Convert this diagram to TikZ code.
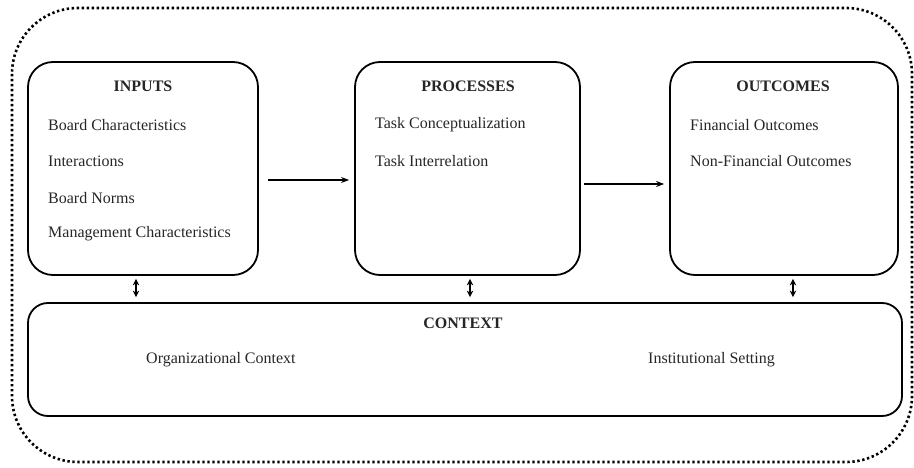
\documentclass[tikz,border=0pt]{standalone}
\usepackage{fontspec}
\setmainfont{Liberation Serif}
\usetikzlibrary{arrows.meta,calc}
\begin{document}
\begin{tikzpicture}[x=1pt,y=-1pt,
  box/.style={draw,line width=1.8pt,rounded corners=25pt,inner sep=0pt},
  ctxbox/.style={draw,line width=1.8pt,rounded corners=20pt,inner sep=0pt},
  outer/.style={draw,line width=2.6pt,dash pattern=on 2.4pt off 2.6pt,rounded corners=66pt},
  ttl/.style={font=\fontsize{16}{19}\selectfont\bfseries,inner sep=0pt,text=black!85},
  itm/.style={font=\fontsize{16}{19}\selectfont,inner sep=0pt,anchor=west,text=black!85},
  arr/.style={line width=1.2pt,-{Stealth[length=8pt,width=6pt]}},
  darr/.style={line width=1.2pt,{Stealth[length=6.5pt,width=6.5pt]}-{Stealth[length=6.5pt,width=6.5pt]}}
]
\useasboundingbox (0,0) rectangle (914,468);
\draw[outer] (12,8) rectangle (912,462);
\node[box,minimum width=230pt,minimum height=213pt] (inputs) at (143,168.5) {};
\node[box,minimum width=225pt,minimum height=213pt] (processes) at (467.5,168.5) {};
\node[box,minimum width=228pt,minimum height=213pt] (outcomes) at (784,168.5) {};
\node[ctxbox,minimum width=874pt,minimum height=113pt] (context) at (465,359.5) {};

\node[ttl] (tin) at (143,86) {INPUTS};
\node[itm] (i1) at (48,125) {Board Characteristics};
\node[itm] (i2) at (48,161) {Interactions};
\node[itm] (i3) at (48,198) {Board Norms};
\node[itm] (i4) at (48,234) {Management Characteristics};

\node[ttl] (tpr) at (468,86) {PROCESSES};
\node[itm] (p1) at (375,125) {Task Conceptualization};
\node[itm] (p2) at (375,161) {Task Interrelation};

\node[ttl] (tout) at (783,86) {OUTCOMES};
\node[itm] (o1) at (690,125) {Financial Outcomes};
\node[itm] (o2) at (690,161) {Non-Financial Outcomes};

\node[ttl] (tctx) at (463,323) {CONTEXT};
\node[itm] (c1) at (146,360) {Organizational Context};
\node[itm] (c2) at (648,360) {Institutional Setting};

\draw[arr,shorten <=9pt,shorten >=5pt] ([yshift=-11.5pt]inputs.east) -- ([yshift=-11.5pt]processes.west);
\draw[arr,shorten <=3pt,shorten >=5pt] ([yshift=-15.5pt]processes.east) -- ([yshift=-15.5pt]outcomes.west);

\draw[darr,shorten <=3pt,shorten >=5pt] ([xshift=-7pt]inputs.south) -- ([xshift=-7pt]inputs.south |- context.north);
\draw[darr,shorten <=3pt,shorten >=5pt] ([xshift=2.5pt]processes.south) -- ([xshift=2.5pt]processes.south |- context.north);
\draw[darr,shorten <=3pt,shorten >=5pt] ([xshift=9pt]outcomes.south) -- ([xshift=9pt]outcomes.south |- context.north);
\end{tikzpicture}
\end{document}
